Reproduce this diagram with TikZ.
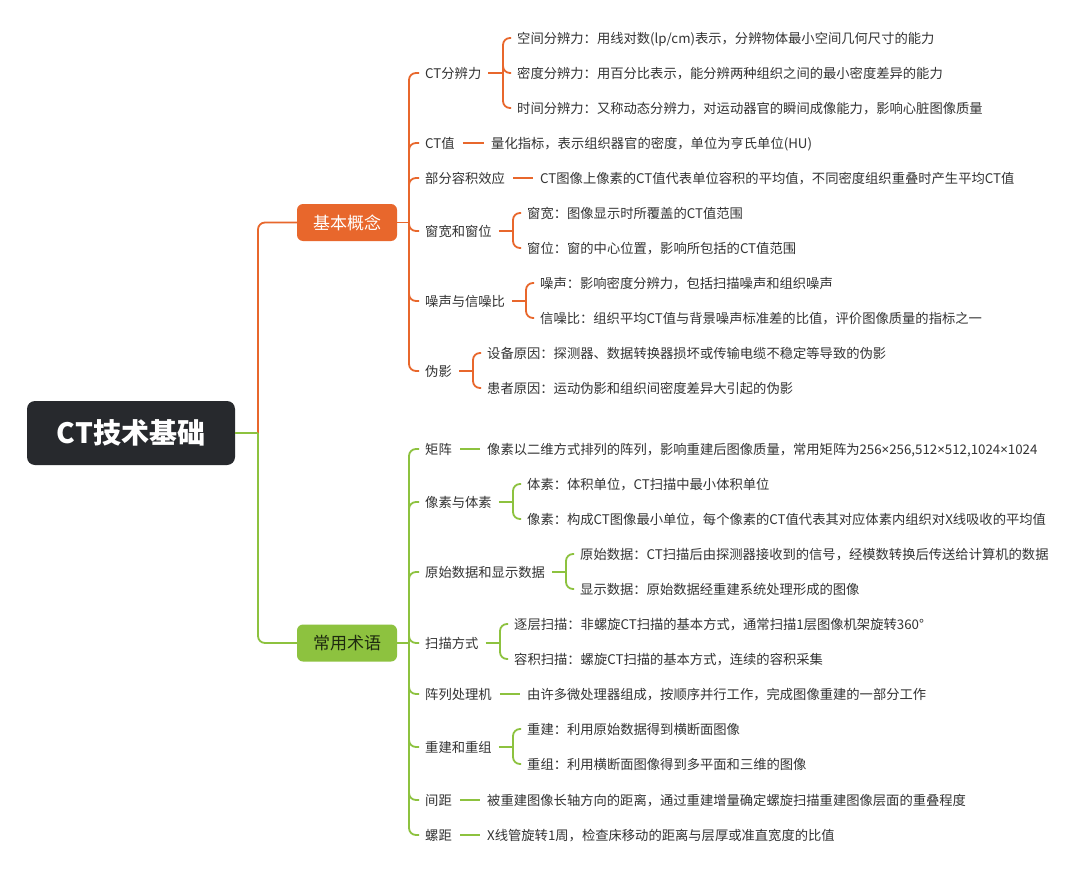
\documentclass[tikz,border=0pt]{standalone}
\usepackage{fontspec}
\setmainfont{Noto Sans CJK SC}
\newfontfamily\lat{Noto Sans}
\usetikzlibrary{calc}
\definecolor{oc}{HTML}{E8672C}
\definecolor{gc}{HTML}{8DC23F}
\definecolor{rootc}{HTML}{27292D}
\definecolor{txt}{HTML}{333333}
\definecolor{gtxt}{HTML}{1E2A0F}
\tikzset{
  t/.style={anchor=west, inner sep=0pt, text=txt, font=\fontsize{13.3}{16}\selectfont, text height=11.7pt, text depth=1.6pt},
  ol/.style={draw=oc, line width=1.8pt, rounded corners=7pt},
  gl/.style={draw=gc, line width=1.8pt, rounded corners=7pt},
  branch/.style={rounded corners=6pt, minimum width=100pt, minimum height=37pt, inner sep=0pt, font=\fontsize{17}{20}\selectfont},
}
\newcommand{\tms}{{\lat ×}}
\newcommand{\braceo}[2]{\draw[ol] ($(#1.east)+(7,0)$) -- ($(#1.east -| #2.west)+(-14,0)$) coordinate (#1b);}
\newcommand{\braceg}[2]{\draw[gl] ($(#1.east)+(7,0)$) -- ($(#1.east -| #2.west)+(-14,0)$) coordinate (#1b);}
\newcommand{\leafo}[2]{\draw[ol] (#1b) |- ($(#2.west)+(-6,0)$);}
\newcommand{\leafg}[2]{\draw[gl] (#1b) |- ($(#2.west)+(-6,0)$);}
\newcommand{\singo}[2]{\draw[ol] ($(#1.east)+(8,0)$) -- ($(#2.west)+(-7,0)$);}
\newcommand{\singg}[2]{\draw[gl] ($(#1.east)+(8,0)$) -- ($(#2.west)+(-7,0)$);}
\begin{document}
\begin{tikzpicture}[x=1pt,y=-1pt]
\useasboundingbox (0,0) rectangle (1080,875);
\fill[white] (0,0) rectangle (1080,875);

% root and branches
\node[fill=rootc, rounded corners=8pt, minimum width=208pt, minimum height=64pt, inner sep=0pt, text=white, font=\fontsize{28}{32}\selectfont\bfseries] (root) at (131,433) {CT技术基础};
\node[branch, fill=oc, text=white] (b1) at (347,222.5) {基本概念};
\node[branch, fill=gc, text=gtxt] (b2) at (347,643) {常用术语};

\coordinate (trunk) at (258,433);
\draw[ol] (trunk) |- (b1.west);
\draw[gl] (trunk) |- (b2.west);
\draw[gl] (root.east) -- (trunk);

% level 1 - 基本概念
\node[t] (a1) at (425,73) {CT分辨力};
\node[t] (a2) at (425,143) {CT值};
\node[t] (a3) at (425,178) {部分容积效应};
\node[t] (a4) at (425,231) {窗宽和窗位};
\node[t] (a5) at (425,301) {噪声与信噪比};
\node[t] (a6) at (425,371) {伪影};

% level 1 - 常用术语
\node[t] (g1) at (425,449) {矩阵};
\node[t] (g2) at (425,502) {像素与体素};
\node[t] (g3) at (425,572) {原始数据和显示数据};
\node[t] (g4) at (425,643) {扫描方式};
\node[t] (g5) at (425,694) {阵列处理机};
\node[t] (g6) at (425,747) {重建和重组};
\node[t] (g7) at (425,800) {间距};
\node[t] (g8) at (425,835) {螺距};

% level 2 - 基本概念
\node[t] (a11) at (517,38) {空间分辨力：用线对数(lp/cm)表示，分辨物体最小空间几何尺寸的能力};
\node[t] (a12) at (517,73) {密度分辨力：用百分比表示，能分辨两种组织之间的最小密度差异的能力};
\node[t] (a13) at (517,108) {时间分辨力：又称动态分辨力，对运动器官的瞬间成像能力，影响心脏图像质量};
\node[t] (a21) at (491,143) {量化指标，表示组织器官的密度，单位为亨氏单位(HU)};
\node[t] (a31) at (540,178) {CT图像上像素的CT值代表单位容积的平均值，不同密度组织重叠时产生平均CT值};
\node[t] (a41) at (527,213) {窗宽：图像显示时所覆盖的CT值范围};
\node[t] (a42) at (527,248) {窗位：窗的中心位置，影响所包括的CT值范围};
\node[t] (a51) at (540,283) {噪声：影响密度分辨力，包括扫描噪声和组织噪声};
\node[t] (a52) at (540,318) {信噪比：组织平均CT值与背景噪声标准差的比值，评价图像质量的指标之一};
\node[t] (a61) at (487,353) {设备原因：探测器、数据转换器损坏或传输电缆不稳定等导致的伪影};
\node[t] (a62) at (487,388) {患者原因：运动伪影和组织间密度差异大引起的伪影};

% level 2 - 常用术语
\node[t] (g11) at (487,449) {像素以二维方式排列的阵列，影响重建后图像质量，常用矩阵为256\tms256,512\tms512,1024\tms1024};
\node[t] (g21) at (527,484) {体素：体积单位，CT扫描中最小体积单位};
\node[t] (g22) at (527,519) {像素：构成CT图像最小单位，每个像素的CT值代表其对应体素内组织对X线吸收的平均值};
\node[t] (g31) at (580,554) {原始数据：CT扫描后由探测器接收到的信号，经模数转换后传送给计算机的数据};
\node[t] (g32) at (580,589) {显示数据：原始数据经重建系统处理形成的图像};
\node[t] (g41) at (514,624) {逐层扫描：非螺旋CT扫描的基本方式，通常扫描1层图像机架旋转360°};
\node[t] (g42) at (514,659) {容积扫描：螺旋CT扫描的基本方式，连续的容积采集};
\node[t] (g51) at (527,694) {由许多微处理器组成，按顺序并行工作，完成图像重建的一部分工作};
\node[t] (g61) at (527,729) {重建：利用原始数据得到横断面图像};
\node[t] (g62) at (527,764) {重组：利用横断面图像得到多平面和三维的图像};
\node[t] (g71) at (487,800) {被重建图像长轴方向的距离，通过重建增量确定螺旋扫描重建图像层面的重叠程度};
\node[t] (g81) at (487,835) {X线管旋转1周，检查床移动的距离与层厚或准直宽度的比值};

% level 1 connectors
\coordinate (k1) at (409,222.5);
\coordinate (k2) at (409,643);
\draw[ol] (b1.east) -- (k1);
\draw[gl] (b2.east) -- (k2);
\foreach \c in {a1,a2,a3,a4,a5,a6} {\draw[ol] (k1) |- ($(\c.west)+(-6,0)$);}
\foreach \c in {g1,g2,g3,g4,g5,g6,g7,g8} {\draw[gl] (k2) |- ($(\c.west)+(-6,0)$);}

% level 2 connectors
\braceo{a1}{a11} \leafo{a1}{a11} \leafo{a1}{a12} \leafo{a1}{a13}
\singo{a2}{a21}
\singo{a3}{a31}
\braceo{a4}{a41} \leafo{a4}{a41} \leafo{a4}{a42}
\braceo{a5}{a51} \leafo{a5}{a51} \leafo{a5}{a52}
\braceo{a6}{a61} \leafo{a6}{a61} \leafo{a6}{a62}

\singg{g1}{g11}
\braceg{g2}{g21} \leafg{g2}{g21} \leafg{g2}{g22}
\braceg{g3}{g31} \leafg{g3}{g31} \leafg{g3}{g32}
\braceg{g4}{g41} \leafg{g4}{g41} \leafg{g4}{g42}
\singg{g5}{g51}
\braceg{g6}{g61} \leafg{g6}{g61} \leafg{g6}{g62}
\singg{g7}{g71}
\singg{g8}{g81}
\end{tikzpicture}
\end{document}
